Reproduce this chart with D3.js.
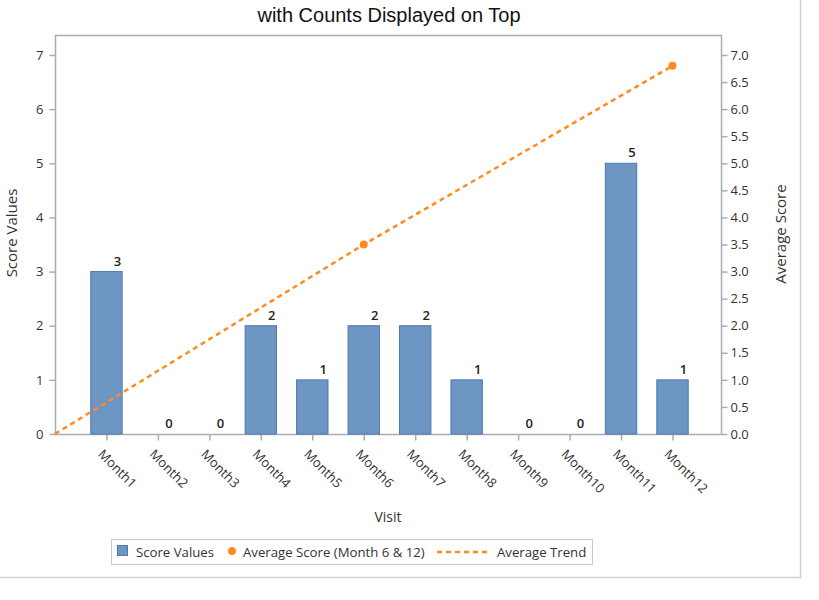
<!DOCTYPE html>
<html>
<head>
<meta charset="utf-8">
<script src="https://cdn.jsdelivr.net/npm/d3@7"></script>
<style>
	html, body { margin: 0; padding: 0; background: #fff; }
	svg { display: block; }
</style>
</head>
<body>
<div id="chart"></div>
<script>
const months = ["Month1", "Month2", "Month3", "Month4", "Month5", "Month6",
	"Month7", "Month8", "Month9", "Month10", "Month11", "Month12"];
const scoreValues = [3, 0, 0, 2, 1, 2, 2, 1, 0, 0, 5, 1];
// average score markers (month index, value)
const avgPoints = [[6, 3.5], [12, 6.8]];
// dashed trend line through the origin and both averages
const trendPoints = [[0, 0], [6, 3.5], [12, 6.8]];
const leftTicks = [0, 1, 2, 3, 4, 5, 6, 7];
const rightTicks = [0, 0.5, 1, 1.5, 2, 2.5, 3, 3.5, 4, 4.5, 5, 5.5, 6, 6.5, 7];

const width = 819;
const height = 600;
const frame = { left: 55, right: 721, top: 35, bottom: 434 };
const barColor = "#6d96c3";
const barStroke = "#4e79ad";
const orange = "#ff8a1f";
const axisColor = "#a8adb3";
const textColor = "#333";
const font = "'Open Sans', 'DejaVu Sans', sans-serif";

const x = d3.scaleLinear().domain([0, 12]).range([frame.left, 672.5]);
const step = x(1) - x(0);
const barWidth = step * 0.61;
const y = d3.scaleLinear().domain([0, 7]).range([frame.bottom, 55]);
const y2 = d3.scaleLinear().domain([0, 7]).range([frame.bottom, 55]);

const svg = d3.select("#chart")
	.append("svg")
	.attr("width", width)
	.attr("height", height)
	.style("font-family", font);

// outer page border
svg.append("path")
	.attr("d", "M0,577.5 H800.5 V0")
	.attr("fill", "none")
	.attr("stroke", "#d0d0d0")
	.attr("stroke-width", 1.5);

svg.append("text")
	.attr("x", 389)
	.attr("y", 22)
	.attr("text-anchor", "middle")
	.attr("font-family", "'Liberation Sans', Arial, sans-serif")
	.attr("font-size", 20)
	.attr("fill", "#111")
	.text("with Counts Displayed on Top");

// frame
svg.append("rect")
	.attr("x", frame.left + 0.5)
	.attr("y", frame.top + 0.5)
	.attr("width", frame.right - frame.left)
	.attr("height", frame.bottom - frame.top)
	.attr("fill", "none")
	.attr("stroke", axisColor)
	.attr("stroke-width", 1.5);

function styleAxis(g) {
	g.select(".domain").remove();
	g.selectAll("line").attr("stroke", axisColor).attr("stroke-width", 1.5);
	g.selectAll("text")
		.attr("fill", textColor)
		.attr("font-size", 13)
		.attr("font-family", font);
}

svg.append("g")
	.attr("transform", `translate(${frame.left + 0.5},0)`)
	.call(d3.axisLeft(y).tickValues(leftTicks).tickSize(6).tickPadding(6)
		.tickFormat(d3.format("d")))
	.call(styleAxis);

svg.append("g")
	.attr("transform", `translate(${frame.right + 0.5},0)`)
	.call(d3.axisRight(y2).tickValues(rightTicks).tickSize(6).tickPadding(3)
		.tickFormat(d3.format(".1f")))
	.call(styleAxis);

const xAxis = svg.append("g")
	.attr("transform", `translate(0,${frame.bottom + 0.5})`)
	.call(d3.axisBottom(x).tickValues(d3.range(1, 13)).tickSize(6)
		.tickFormat((d) => months[d - 1]))
	.call(styleAxis);

xAxis.selectAll("text")
	.attr("text-anchor", "start")
	.attr("dy", "0.35em")
	.attr("transform", "translate(0,11) rotate(45)");

// bars
svg.append("g")
	.selectAll("rect")
	.data(scoreValues)
	.join("rect")
	.attr("x", (d, i) => x(i + 1) - barWidth / 2)
	.attr("y", (d) => y(d))
	.attr("width", barWidth)
	.attr("height", (d) => y(0) - y(d))
	.attr("fill", barColor)
	.attr("stroke", barStroke)
	.attr("stroke-width", 1);

// counts on top
svg.append("g")
	.selectAll("text")
	.data(scoreValues)
	.join("text")
	.attr("x", (d, i) => x(i + 1) + 11)
	.attr("y", (d) => y(d) - 6)
	.attr("text-anchor", "middle")
	.attr("font-size", 13)
	.attr("font-weight", 600)
	.attr("fill", "#222")
	.text((d) => d);

// trend
svg.append("path")
	.datum(trendPoints)
	.attr("d", d3.line().x((d) => x(d[0])).y((d) => y2(d[1])))
	.attr("fill", "none")
	.attr("stroke", orange)
	.attr("stroke-width", 2.5)
	.attr("stroke-dasharray", "5 4");

svg.append("g")
	.selectAll("circle")
	.data(avgPoints)
	.join("circle")
	.attr("cx", (d) => x(d[0]))
	.attr("cy", (d) => y2(d[1]))
	.attr("r", 4)
	.attr("fill", orange);

// axis titles
svg.append("text")
	.attr("transform", "translate(17,233) rotate(-90)")
	.attr("text-anchor", "middle")
	.attr("font-size", 15)
	.attr("fill", textColor)
	.text("Score Values");

svg.append("text")
	.attr("transform", "translate(786,234) rotate(-90)")
	.attr("text-anchor", "middle")
	.attr("font-size", 15)
	.attr("fill", textColor)
	.text("Average Score");

svg.append("text")
	.attr("x", 388)
	.attr("y", 522)
	.attr("text-anchor", "middle")
	.attr("font-size", 14)
	.attr("fill", textColor)
	.text("Visit");

// legend
const legend = svg.append("g");
legend.append("rect")
	.attr("x", 111.5)
	.attr("y", 539.5)
	.attr("width", 481)
	.attr("height", 25)
	.attr("fill", "none")
	.attr("stroke", "#c8c8c8");
legend.append("rect")
	.attr("x", 117.5)
	.attr("y", 545.5)
	.attr("width", 10)
	.attr("height", 10)
	.attr("fill", barColor)
	.attr("stroke", barStroke);
legend.append("circle")
	.attr("cx", 232)
	.attr("cy", 551)
	.attr("r", 4)
	.attr("fill", orange);
legend.append("line")
	.attr("x1", 437)
	.attr("x2", 487)
	.attr("y1", 552)
	.attr("y2", 552)
	.attr("stroke", orange)
	.attr("stroke-width", 2.5)
	.attr("stroke-dasharray", "5 4");
const legendLabels = [
	{ x: 136, text: "Score Values" },
	{ x: 243, text: "Average Score (Month 6 & 12)" },
	{ x: 497, text: "Average Trend" },
];
legend.selectAll(".legend-label")
	.data(legendLabels)
	.join("text")
	.attr("class", "legend-label")
	.attr("x", (d) => d.x)
	.attr("y", 557)
	.attr("font-size", 13.2)
	.attr("fill", textColor)
	.text((d) => d.text);
</script>
</body>
</html>
